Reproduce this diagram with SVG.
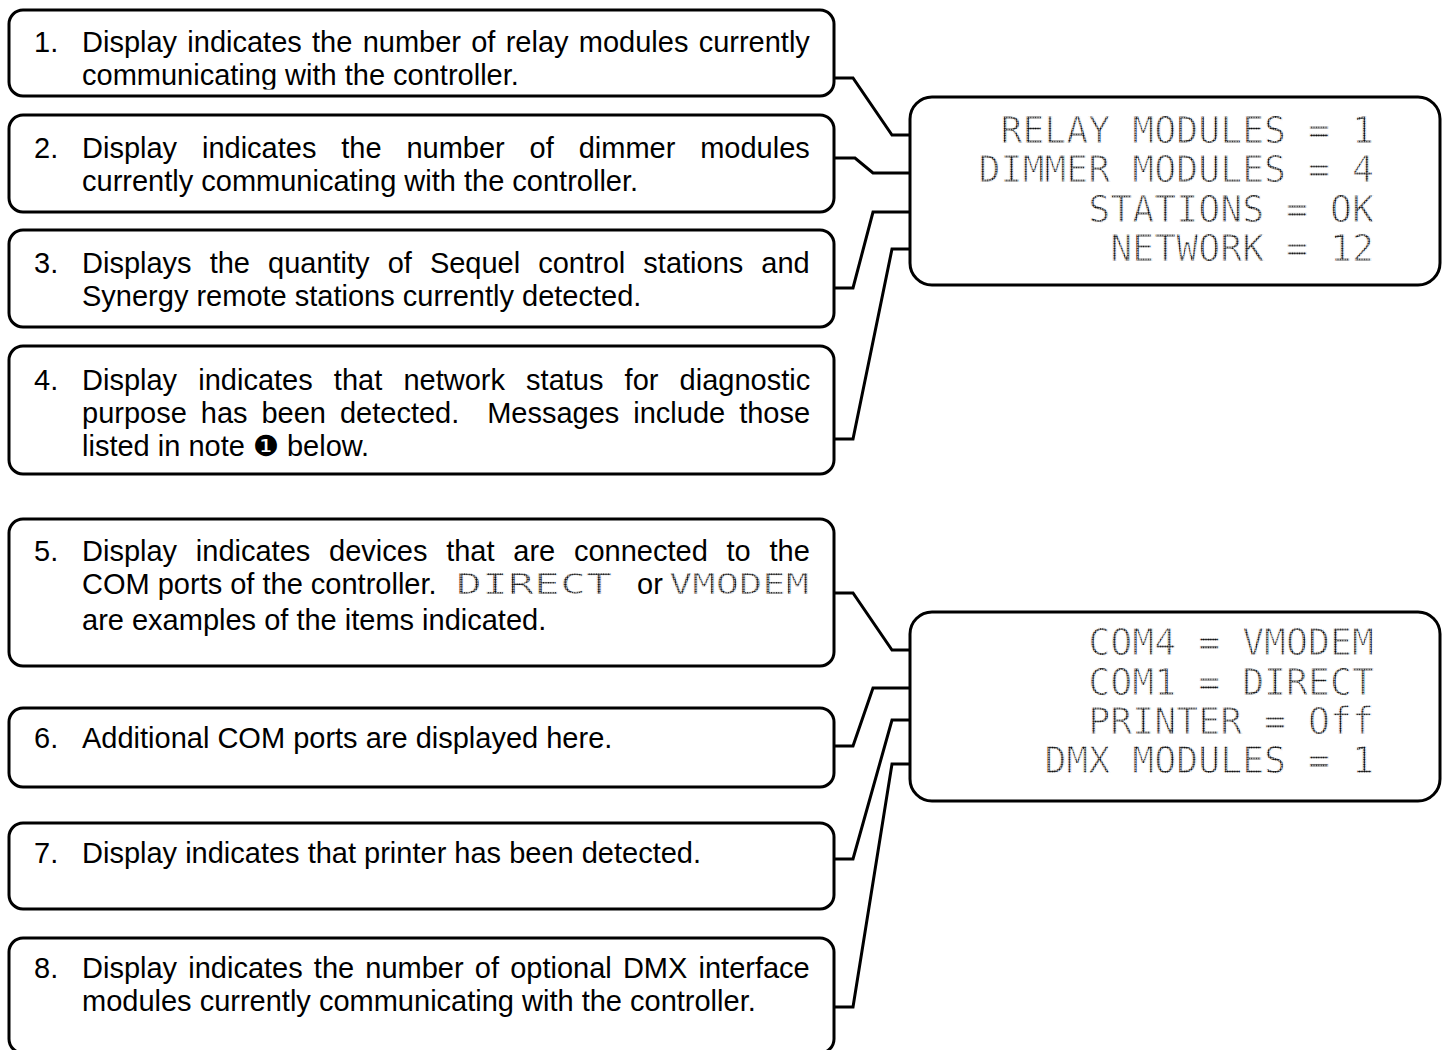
<svg xmlns="http://www.w3.org/2000/svg" width="1442" height="1050" viewBox="0 0 1442 1050">
<defs>
<style>
.box{fill:#fff;stroke:#000;stroke-width:3}
.disp{fill:#fff;stroke:#000;stroke-width:3}
.t{font-family:"Liberation Sans",Arial,"DejaVu Sans",sans-serif;font-size:29px;fill:#000}
.dm{font-family:"DejaVu Sans Mono","Liberation Mono",monospace;font-size:36.5px;fill:url(#dots);stroke:#fff;stroke-width:1px;text-anchor:end}
.dmi{font-family:"DejaVu Sans Mono","Liberation Mono",monospace;font-size:29px;fill:url(#dots);stroke:#fff;stroke-width:0.7px}
.conn{fill:none;stroke:#000;stroke-width:3;stroke-linejoin:miter}
</style>
<pattern id="dots" width="2.4" height="2.4" patternUnits="userSpaceOnUse">
<circle cx="1.2" cy="1.2" r="1.1" fill="#000"/>
</pattern>
<clipPath id="clip1"><rect x="0" y="0" width="840" height="89.5"/></clipPath>
</defs>
<rect width="1442" height="1050" fill="#fff"/>

<g id="connectors">
<path class="conn" d="M834,78 H853 L892,135 H910"/>
<path class="conn" d="M834,158 H855 L873,173 H910"/>
<path class="conn" d="M834,288 H853 L873,212 H910"/>
<path class="conn" d="M834,439 H853 L892,249 H910"/>
<path class="conn" d="M834,593 H853 L892,650 H910"/>
<path class="conn" d="M834,746 H853 L873,688 H910"/>
<path class="conn" d="M834,859 H853 L892,720 H910"/>
<path class="conn" d="M834,1007 H853 L892,764 H910"/>
</g>

<g id="node1">
<rect class="box" x="9" y="10" width="825" height="86" rx="14"/>
<g clip-path="url(#clip1)">
<text class="t" x="34" y="52">1.</text>
<text class="t" x="82" y="52" word-spacing="2.2">Display indicates the number of relay modules currently</text>
<text class="t" x="82" y="85">communicating with the controller.</text>
</g>
</g>

<g id="node2">
<rect class="box" x="9" y="115" width="825" height="97" rx="14"/>
<text class="t" x="34" y="158">2.</text>
<text class="t" x="82" y="158" word-spacing="16.8">Display indicates the number of dimmer modules</text>
<text class="t" x="82" y="191">currently communicating with the controller.</text>
</g>

<g id="node3">
<rect class="box" x="9" y="230" width="825" height="97" rx="14"/>
<text class="t" x="34" y="273">3.</text>
<text class="t" x="82" y="273" word-spacing="10">Displays the quantity of Sequel control stations and</text>
<text class="t" x="82" y="306">Synergy remote stations currently detected.</text>
</g>

<g id="node4">
<rect class="box" x="9" y="346" width="825" height="128" rx="14"/>
<text class="t" x="34" y="390">4.</text>
<text class="t" x="82" y="390" word-spacing="13.1">Display indicates that network status for diagnostic</text>
<text class="t" x="82" y="423" word-spacing="5.9">purpose has been detected.&#160; Messages include those</text>
<text class="t" x="82" y="456">listed in note ❶ below.</text>
</g>

<g id="node5">
<rect class="box" x="9" y="519" width="825" height="147" rx="14"/>
<text class="t" x="34" y="561">5.</text>
<text class="t" x="82" y="561" word-spacing="10.7">Display indicates devices that are connected to the</text>
<text class="t" x="82" y="594">COM ports of the controller.</text>
<text class="dmi" x="456" y="594" textLength="156" lengthAdjust="spacingAndGlyphs">DIRECT</text>
<text class="t" x="637" y="594">or</text>
<text class="dmi" x="669" y="594" textLength="140" lengthAdjust="spacingAndGlyphs">VMODEM</text>
<text class="t" x="82" y="630">are examples of the items indicated.</text>
</g>

<g id="node6">
<rect class="box" x="9" y="708" width="825" height="79" rx="14"/>
<text class="t" x="34" y="748">6.</text>
<text class="t" x="82" y="748">Additional COM ports are displayed here.</text>
</g>

<g id="node7">
<rect class="box" x="9" y="823" width="825" height="86" rx="14"/>
<text class="t" x="34" y="863">7.</text>
<text class="t" x="82" y="863">Display indicates that printer has been detected.</text>
</g>

<g id="node8">
<rect class="box" x="9" y="938" width="825" height="115" rx="14"/>
<text class="t" x="34" y="978">8.</text>
<text class="t" x="82" y="978" word-spacing="3.1">Display indicates the number of optional DMX interface</text>
<text class="t" x="82" y="1011">modules currently communicating with the controller.</text>
</g>

<g id="display1">
<rect class="disp" x="910" y="97" width="530" height="188" rx="22"/>
<text class="dm" x="1374" y="143">RELAY MODULES = 1</text>
<text class="dm" x="1374" y="182">DIMMER MODULES = 4</text>
<text class="dm" x="1374" y="222">STATIONS = OK</text>
<text class="dm" x="1374" y="261">NETWORK = 12</text>
</g>

<g id="display2">
<rect class="disp" x="910" y="612" width="530" height="189" rx="22"/>
<text class="dm" x="1374" y="655">COM4 = VMODEM</text>
<text class="dm" x="1374" y="695">COM1 = DIRECT</text>
<text class="dm" x="1374" y="734">PRINTER = Off</text>
<text class="dm" x="1374" y="773">DMX MODULES = 1</text>
</g>
</svg>
